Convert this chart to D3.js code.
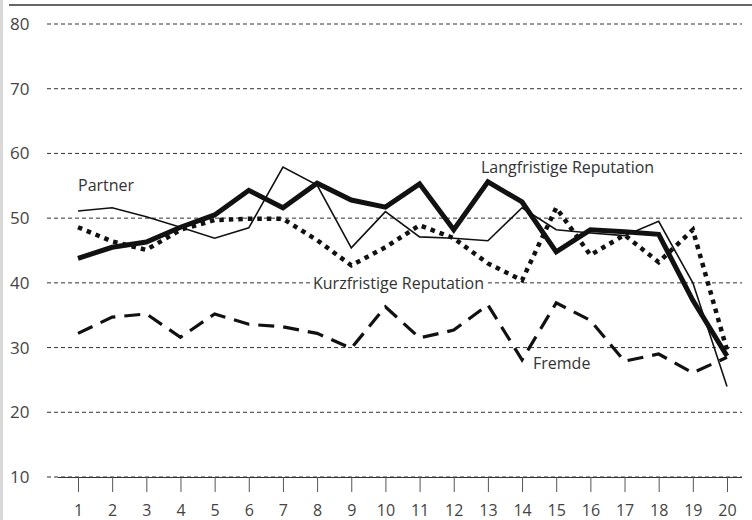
<!DOCTYPE html>
<html>
<head>
<meta charset="utf-8">
<script src="https://cdn.jsdelivr.net/npm/d3@7"></script>
<style>
  body { margin: 0; background: #fff; }
  svg { display: block; font-family: "Open Sans", "Noto Sans", sans-serif; }
</style>
</head>
<body>
<svg id="chart" width="752" height="520"></svg>
<script>
// rounds 1..20
const rounds = d3.range(1, 21);
const yTicks = [10, 20, 30, 40, 50, 60, 70, 80];

// series values
const langfristig = [43.8, 45.5, 46.3, 48.6, 50.5, 54.3, 51.6, 55.4, 52.8, 51.7, 55.3, 48.2, 55.6, 52.5, 44.8, 48.2, 47.9, 47.5, 37.3, 28.7];
const partner = [51.1, 51.6, 50.2, 48.6, 46.9, 48.5, 57.9, 55.1, 45.4, 51.0, 47.1, 46.9, 46.5, 51.6, 48.2, 47.7, 47.3, 49.5, 40.0, 24.0];
const kurzfristig = [48.6, 46.4, 45.1, 48.2, 49.7, 49.9, 49.9, 46.6, 42.7, 45.5, 48.9, 46.9, 43.0, 40.4, 51.6, 44.3, 47.4, 43.2, 48.2, 29.6];
const fremde = [32.2, 34.7, 35.2, 31.6, 35.2, 33.6, 33.2, 32.2, 29.9, 36.3, 31.5, 32.7, 36.6, 28.1, 36.9, 34.2, 27.9, 29.0, 26.1, 28.5];

const svg = d3.select('#chart');

const x = d3.scalePoint()
    .domain(rounds)
    .range([78, 727]);

const y = d3.scaleLinear()
    .domain([10, 80])
    .range([477, 24]);

// frame bits
svg.append('line')
    .attr('x1', 1.5).attr('x2', 1.5)
    .attr('y1', 0).attr('y2', 520)
    .style('stroke', '#d8d8d8').style('stroke-width', 3);
svg.append('line')
    .attr('x1', 9).attr('x2', 752)
    .attr('y1', 5).attr('y2', 5)
    .style('stroke', '#666').style('stroke-width', 2);

// horizontal dashed grid
svg.append('g').selectAll('line')
    .data(yTicks)
    .join('line')
    .attr('x1', 47).attr('x2', 742)
    .attr('y1', d => y(d)).attr('y2', d => y(d))
    .style('stroke', '#333').style('stroke-width', 1)
    .style('stroke-dasharray', '4,3');

// y labels
svg.append('g').selectAll('text')
    .data(yTicks)
    .join('text')
    .attr('x', 10)
    .attr('y', d => y(d) + 6)
    .text(d => d)
    .style('font-size', '17px')
    .style('fill', '#444');

// x axis with ticks below
const xAxis = d3.axisBottom(x).tickSize(15).tickPadding(13);
const gx = svg.append('g')
    .attr('transform', 'translate(0,' + y(10) + ')')
    .call(xAxis);
gx.select('.domain').attr('d', 'M58,0.5H742').style('stroke', '#333');
gx.selectAll('.tick line').style('stroke', '#555');
gx.selectAll('.tick text')
    .style('font-size', '16px')
    .style('fill', '#444')
    .style('font-family', '"Open Sans", sans-serif');

const line = d3.line()
    .x((d, i) => x(rounds[i]))
    .y(d => y(d));

const series = [
    { values: partner, width: 1.6, dash: null },
    { values: fremde, width: 3.2, dash: '16,9' },
    { values: kurzfristig, width: 4.5, dash: '4.5,5' },
    { values: langfristig, width: 5, dash: null }
];

svg.append('g').selectAll('path')
    .data(series)
    .join('path')
    .attr('d', d => line(d.values))
    .style('fill', 'none')
    .style('stroke', '#111')
    .style('stroke-width', d => d.width)
    .style('stroke-dasharray', d => d.dash)
    .style('stroke-linejoin', 'miter');

// series names, Kurzfristige gets a white box over the grid line
const labels = [
    { text: 'Partner', x: 78, y: 191, bg: false },
    { text: 'Langfristige Reputation', x: 481, y: 173, bg: false },
    { text: 'Kurzfristige Reputation', x: 313, y: 289, bg: true },
    { text: 'Fremde', x: 533, y: 369, bg: false }
];

const lg = svg.append('g');
labels.forEach(l => {
    const t = lg.append('text')
        .attr('x', l.x).attr('y', l.y)
        .text(l.text)
        .style('font-size', '16px')
        .style('fill', '#333');
    if (l.bg) {
        const b = t.node().getBBox();
        lg.insert('rect', 'text')
            .attr('x', b.x - 1).attr('y', b.y + 2)
            .attr('width', b.width + 3).attr('height', b.height - 4)
            .style('fill', '#fff');
    }
});
</script>
</body>
</html>
